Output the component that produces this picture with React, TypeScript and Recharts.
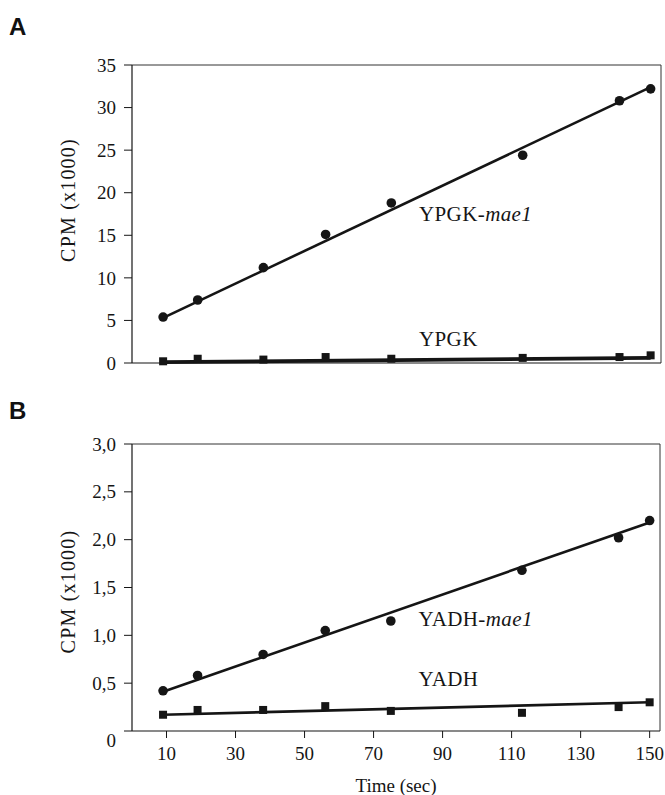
import {
  ComposedChart,
  Line,
  Scatter,
  XAxis,
  YAxis,
  ReferenceLine,
  ReferenceDot,
} from 'recharts'

// time points (sec)
const times = [9, 19, 38, 56, 75, 113, 141, 150]

// panel A (CPM x1000)
const ypgkMae1 = [5.4, 7.4, 11.2, 15.1, 18.8, 24.4, 30.8, 32.2]
const ypgk = [0.2, 0.5, 0.4, 0.7, 0.5, 0.6, 0.7, 0.9]
const ypgkMae1Fit = [{ t: 9, v: 5.3 }, { t: 150, v: 32.4 }]
const ypgkFit = [{ t: 9, v: 0.1 }, { t: 150, v: 0.6 }]

// panel B (CPM x1000)
const yadhMae1 = [0.42, 0.58, 0.8, 1.05, 1.15, 1.68, 2.02, 2.2]
const yadh = [0.17, 0.22, 0.22, 0.26, 0.21, 0.19, 0.25, 0.3]
const yadhMae1Fit = [{ t: 9, v: 0.41 }, { t: 150, v: 2.18 }]
const yadhFit = [{ t: 9, v: 0.17 }, { t: 150, v: 0.3 }]

const ticksA = [0, 5, 10, 15, 20, 25, 30, 35]
const ticksB = [0, 0.5, 1, 1.5, 2, 2.5, 3]
const ticksX = [10, 30, 50, 70, 90, 110, 130, 150]

const labelsA = [
  { t: 83, v: 17.5, name: 'YPGK', suffix: 'mae1' },
  { t: 83, v: 2.9, name: 'YPGK', suffix: '' },
]
const labelsB = [
  { t: 83, v: 1.17, name: 'YADH', suffix: 'mae1' },
  { t: 83, v: 0.55, name: 'YADH', suffix: '' },
]

const INK = '#151515'
const FONT = '"Liberation Serif", "DejaVu Serif", serif'

const toPoints = (vals: number[]) => times.map((t, i) => ({ t, v: vals[i] }))

function commaFmt(v: number) {
  return v === 0 ? '0' : v.toFixed(1).replace('.', ',')
}

function YLabel({ viewBox, shift }: any) {
  const cx = viewBox.x
  const cy = viewBox.y + viewBox.height / 2 + (shift || 0)
  return (
    <text
      x={cx}
      y={cy}
      dy="0.35em"
      textAnchor="middle"
      transform={`rotate(-90, ${cx}, ${cy})`}
      fontFamily={FONT}
      fontSize={20}
      letterSpacing={1.2}
      fill={INK}
    >
      CPM (x1000)
    </text>
  )
}

function SeriesLabel({ viewBox, name, suffix }: any) {
  return (
    <text x={viewBox.x} y={viewBox.y} dy="0.35em" fontFamily={FONT} fontSize={21} letterSpacing={0.4} fill={INK}>
      {suffix ? name + '-' : name}
      {suffix ? <tspan fontStyle="italic">{suffix}</tspan> : null}
    </text>
  )
}

function YTick({ x, y, payload, fmt, zeroDrop }: any) {
  const v = payload.value
  const label = fmt ? fmt(v) : String(v)
  return (
    <text x={x} y={y + (v === 0 && zeroDrop ? zeroDrop : 0)} dy="0.35em" textAnchor="end" fontFamily={FONT} fontSize={19} fill={INK}>
      {label}
    </text>
  )
}

function XTick({ x, y, payload }: any) {
  return (
    <text x={x} y={y} dy="0.75em" textAnchor="middle" fontFamily={FONT} fontSize={19} fill={INK}>
      {payload.value}
    </text>
  )
}

function Square(props: any) {
  const { cx, cy } = props
  return <rect x={cx - 4} y={cy - 4} width={8} height={8} fill={INK} />
}

function Dot(props: any) {
  const { cx, cy } = props
  return <circle cx={cx} cy={cy} r={4.8} fill={INK} />
}

const letterStyle = {
  position: 'absolute' as const,
  left: 9,
  fontFamily: '"Liberation Sans", Arial, sans-serif',
  fontWeight: 900,
  fontSize: 24,
  color: '#111',
}

export default function App() {
  return (
    <div style={{ position: 'absolute', left: 0, top: 0, width: 665, height: 795, background: '#fff' }}>
      <div style={{ ...letterStyle, top: 13 }}>A</div>
      <div style={{ ...letterStyle, top: 397 }}>B</div>

      <div style={{ position: 'absolute', left: 0, top: 0 }}>
        <ComposedChart width={665} height={400} margin={{ top: 65, right: 4, bottom: 36, left: 68 }}>
          <XAxis
            type="number"
            dataKey="t"
            domain={[0, 153]}
            ticks={ticksX}
            tick={false}
            tickLine={false}
            height={1}
            axisLine={{ stroke: INK, strokeWidth: 1.2 }}
          />
          <YAxis
            type="number"
            dataKey="v"
            domain={[0, 35]}
            ticks={ticksA}
            interval={0}
            width={64}
            tick={<YTick />}
            tickSize={8}
            tickMargin={8}
            tickLine={{ stroke: INK }}
            axisLine={{ stroke: INK, strokeWidth: 1.2 }}
            label={<YLabel shift={-14} />}
          />
          <ReferenceLine y={35} stroke="#333" strokeWidth={1} />
          <ReferenceLine x={153} stroke="#333" strokeWidth={1} />
          <Line data={ypgkMae1Fit} dataKey="v" stroke={INK} strokeWidth={2.6} dot={false} isAnimationActive={false} />
          <Line data={ypgkFit} dataKey="v" stroke={INK} strokeWidth={3.6} dot={false} isAnimationActive={false} />
          <Scatter data={toPoints(ypgkMae1)} dataKey="v" shape={<Dot />} isAnimationActive={false} />
          <Scatter data={toPoints(ypgk)} dataKey="v" shape={<Square />} isAnimationActive={false} />
          {labelsA.map((l, i) => (
            <ReferenceDot
              key={i}
              x={l.t}
              y={l.v}
              r={0}
              stroke="none"
              label={<SeriesLabel name={l.name} suffix={l.suffix} />}
            />
          ))}
        </ComposedChart>
      </div>

      <div style={{ position: 'absolute', left: 0, top: 390 }}>
        <ComposedChart width={665} height={405} margin={{ top: 54, right: 5, bottom: 0, left: 68 }}>
          <XAxis
            type="number"
            dataKey="t"
            domain={[0, 153]}
            ticks={ticksX}
            interval={0}
            height={64}
            tick={<XTick />}
            tickSize={7}
            tickMargin={8}
            tickLine={{ stroke: INK }}
            axisLine={{ stroke: INK, strokeWidth: 1.2 }}
            label={{ value: 'Time (sec)', position: 'insideBottom', offset: 3, style: { fontFamily: FONT, fontSize: 19, fill: INK } }}
          />
          <YAxis
            type="number"
            dataKey="v"
            domain={[0, 3]}
            ticks={ticksB}
            interval={0}
            width={64}
            tick={<YTick fmt={commaFmt} zeroDrop={9} />}
            tickSize={8}
            tickMargin={8}
            tickLine={{ stroke: INK }}
            axisLine={{ stroke: INK, strokeWidth: 1.2 }}
            label={<YLabel shift={4} />}
          />
          <ReferenceLine y={3} stroke="#333" strokeWidth={1} />
          <ReferenceLine x={153} stroke="#333" strokeWidth={1} />
          <Line data={yadhMae1Fit} dataKey="v" stroke={INK} strokeWidth={2.6} dot={false} isAnimationActive={false} />
          <Line data={yadhFit} dataKey="v" stroke={INK} strokeWidth={2.6} dot={false} isAnimationActive={false} />
          <Scatter data={toPoints(yadhMae1)} dataKey="v" shape={<Dot />} isAnimationActive={false} />
          <Scatter data={toPoints(yadh)} dataKey="v" shape={<Square />} isAnimationActive={false} />
          {labelsB.map((l, i) => (
            <ReferenceDot
              key={i}
              x={l.t}
              y={l.v}
              r={0}
              stroke="none"
              label={<SeriesLabel name={l.name} suffix={l.suffix} />}
            />
          ))}
        </ComposedChart>
      </div>
    </div>
  )
}
